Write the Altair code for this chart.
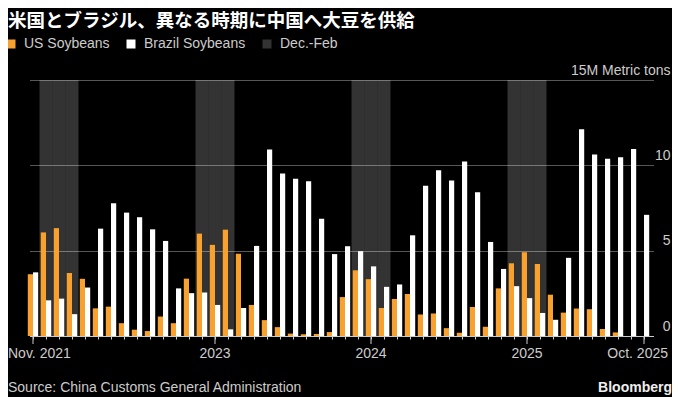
import altair as alt
import pandas as pd

# ---- data -------------------------------------------------------------
months = [str(p) for p in pd.period_range("2021-11", "2025-10", freq="M")]

us_soybeans = [
    3.62, 6.07, 6.32, 3.69, 3.35, 1.62, 1.72, 0.75, 0.37, 0.29, 1.14, 0.75,
    3.36, 6.00, 5.34, 6.23, 4.82, 1.82, 0.93, 0.52, 0.14, 0.10, 0.12, 0.23,
    2.28, 3.85, 3.33, 1.64, 2.17, 2.46, 1.26, 1.32, 0.46, 0.19, 1.70, 0.54,
    2.79, 4.26, 4.91, 4.22, 2.42, 1.37, 1.61, 1.57, 0.41, 0.21, 0.0, 0.0,
]
brazil_soybeans = [
    3.73, 2.09, 2.19, 1.28, 2.84, 6.29, 7.78, 7.23, 6.96, 6.25, 5.57, 2.79,
    2.51, 2.55, 1.82, 0.39, 1.64, 5.28, 10.93, 9.52, 9.21, 9.07, 6.87, 4.80,
    5.26, 4.97, 4.08, 2.88, 3.02, 5.90, 8.80, 9.71, 9.11, 10.23, 8.43, 5.51,
    3.93, 2.92, 2.22, 1.35, 0.95, 4.58, 12.11, 10.64, 10.39, 10.48, 10.95, 7.10,
]

series_names = ["US Soybeans", "Brazil Soybeans", "Dec.-Feb"]
series_colors = ["#f9a12e", "#ffffff", "rgba(255,255,255,0.2)"]
shade_month_numbers = ["12", "01", "02"]

y_ticks = [0, 5, 10, 15]
y_top_label = "15M Metric tons"

tick_months = ["2021-11", "2023-01", "2024-01", "2025-01", "2025-10"]
tick_texts = ["Nov. 2021", "2023", "2024", "2025", "Oct. 2025"]

title_text = "米国とブラジル、異なる時期に中国へ大豆を供給"
source_text = "Source: China Customs General Administration"
brand_text = "Bloomberg"

# ---- tables -----------------------------------------------------------
bars_df = pd.DataFrame({
    "month": months * 2,
    "series": [series_names[0]] * len(months) + [series_names[1]] * len(months),
    "value": us_soybeans + brazil_soybeans,
})
band_df = pd.DataFrame({
    "month": [m for m in months if m[-2:] in shade_month_numbers],
})
band_df["series"] = series_names[2]
ticks_df = pd.DataFrame({"month": tick_months, "label": tick_texts})
first_label_df = ticks_df.iloc[:1]
mid_label_df = ticks_df.iloc[1:-1]
last_label_df = ticks_df.iloc[-1:]

# ---- layout -----------------------------------------------------------
W, H = 664, 256
X_RANGE = [18.5, 642.5]
FONT = "Liberation Sans"
TITLE_FONT = "Liberation Sans, 'Noto Sans CJK JP'"
TEXT_COLOR = "#cccccc"

x_scale = alt.Scale(domain=months, range=X_RANGE, paddingInner=0, paddingOuter=0)
y_scale = alt.Scale(domain=[0, 15], nice=False)

x_axis = alt.Axis(
    orient="bottom", title=None, grid=False, domain=False,
    ticks=True, tickSize=3, tickColor=TEXT_COLOR, tickWidth=1,
    labels=False,
)
y_axis = alt.Axis(
    orient="right", title=None, values=y_ticks,
    ticks=False, tickSize=0, domain=False,
    grid=True,
    gridColor={"condition": {"test": "datum.value == 0", "value": TEXT_COLOR},
               "value": "#575757"},
    gridWidth=1,
    labelAlign="right", labelPadding=-2, labelBaseline="alphabetic",
    labelOffset=-6, labelFlush=False, labelOverlap=False,
    labelFont=FONT, labelFontSize=14, labelColor=TEXT_COLOR,
    labelExpr=f"datum.value == 15 ? '{y_top_label}' : datum.label",
)

color_enc = alt.Color(
    "series:N",
    scale=alt.Scale(domain=series_names, range=series_colors),
    legend=alt.Legend(
        orient="none", legendX=-4, legendY=-43, direction="horizontal",
        title=None, symbolType="square", symbolSize=81, symbolStrokeWidth=0,
        labelFont=FONT, labelFontSize=14, labelColor=TEXT_COLOR,
        labelOffset=6, columnPadding=14,
    ),
)

x_enc = alt.X("month:O", scale=x_scale, axis=x_axis)

bands = alt.Chart(band_df).mark_rect().encode(
    x=x_enc,
    y=alt.Y(datum=15, scale=y_scale, axis=y_axis),
    y2=alt.Y2(datum=0),
    color=color_enc,
)

bars = alt.Chart(bars_df).mark_bar().encode(
    x=x_enc,
    xOffset=alt.XOffset(
        "series:N",
        scale=alt.Scale(domain=series_names[:2], paddingInner=0, paddingOuter=0.25),
    ),
    y=alt.Y("value:Q", scale=y_scale, axis=y_axis),
    color=color_enc,
)

long_ticks = alt.Chart(ticks_df).mark_rule(color=TEXT_COLOR, strokeWidth=1).encode(
    x=x_enc,
    y=alt.value(H),
    y2=alt.value(H + 8),
)


def x_labels(df, align, dx):
    return alt.Chart(df).mark_text(
        align=align, baseline="alphabetic", font=FONT, fontSize=14,
        color=TEXT_COLOR, dx=dx,
    ).encode(x=x_enc, y=alt.value(H + 22), text="label:N")


first_labels = x_labels(first_label_df, "left", -25)
mid_labels = x_labels(mid_label_df, "center", 0)
last_labels = x_labels(last_label_df, "right", 24)

title_layer = alt.Chart(pd.DataFrame({"t": [title_text]})).mark_text(
    align="left", baseline="alphabetic", font=TITLE_FONT,
    fontSize=18.5, fontWeight="bold", color="#ffffff",
).encode(x=alt.value(0), y=alt.value(-53), text="t:N")

source_layer = alt.Chart(pd.DataFrame({"t": [source_text]})).mark_text(
    align="left", baseline="alphabetic", font=FONT, fontSize=14, color=TEXT_COLOR,
).encode(x=alt.value(0), y=alt.value(312), text="t:N")

brand_layer = alt.Chart(pd.DataFrame({"t": [brand_text]})).mark_text(
    align="right", baseline="alphabetic", font=FONT, fontSize=14,
    fontWeight="bold", color="#eeeeee",
).encode(x=alt.value(W), y=alt.value(312), text="t:N")

chart = alt.layer(
    bands, bars, long_ticks, first_labels, mid_labels, last_labels,
    title_layer, source_layer, brand_layer,
).properties(
    width=W, height=H,
    autosize=alt.AutoSizeParams(type="none"),
    padding={"left": 0, "top": 72, "right": 0, "bottom": 61},
    background="#000000",
).configure_view(stroke=None)

chart.save("out.html", embed_options={"renderer": "svg", "actions": False})
